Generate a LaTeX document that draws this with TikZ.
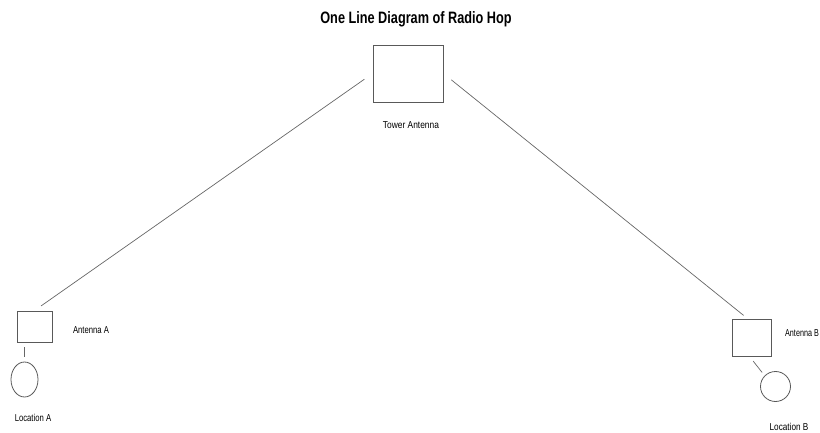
\documentclass[tikz,border=0pt]{standalone}
\usepackage{fontspec}
\usepackage{graphicx}
\usetikzlibrary{shapes.geometric}
\setmainfont{Liberation Sans}
\newcommand{\condtxt}[2]{\scalebox{#1}[1]{#2}}
\begin{document}
\begin{tikzpicture}[x=1pt,y=-1pt,
  box/.style={draw=black!65,line width=0.9pt,inner sep=0pt},
  loc/.style={draw=black!65,line width=0.8pt,inner sep=0pt},
  lbl/.style={inner sep=0pt,font=\fontsize{10}{11}\selectfont},
  link/.style={draw=black!60,line width=0.7pt}]
\useasboundingbox (0,0) rectangle (820,433);
\node[inner sep=0pt,font=\fontsize{16.5}{18}\selectfont\bfseries] (title) at (416,19) {\condtxt{0.77}{One Line Diagram of Radio Hop}};
\node[box,minimum width=70pt,minimum height=57pt] (tower) at (408,73.5) {};
\node[lbl] (towerlbl) at (411,125.5) {\condtxt{0.84}{Tower Antenna}};
\node[box,minimum width=35pt,minimum height=31pt] (antA) at (34.5,326.5) {};
\node[lbl] (antAlbl) at (91,330) {\condtxt{0.77}{Antenna A}};
\node[box,minimum width=39pt,minimum height=37pt] (antB) at (751.5,337.5) {};
\node[lbl] (antBlbl) at (802,333) {\condtxt{0.72}{Antenna B}};
\node[loc,ellipse,minimum width=27pt,minimum height=35pt] (locA) at (24.5,379.5) {};
\node[lbl] (locAlbl) at (33,418) {\condtxt{0.77}{Location A}};
\node[loc,circle,minimum size=30pt] (locB) at (775.5,386.5) {};
\node[lbl] (locBlbl) at (789,427) {\condtxt{0.82}{Location B}};
\draw[link,shorten <=10pt,shorten >=8pt] (tower.west) -- (antA.north);
\draw[link,shorten <=10pt,shorten >=5pt] (tower.east) -- ([xshift=-4pt]antB.north);
\draw[link,shorten <=5pt,shorten >=5pt] (locA.north) -- (locA.north |- antA.south);
\draw[link,shorten <=6pt,shorten >=4pt] ([xshift=-2pt]antB.south) -- (locB.135);
\end{tikzpicture}
\end{document}
